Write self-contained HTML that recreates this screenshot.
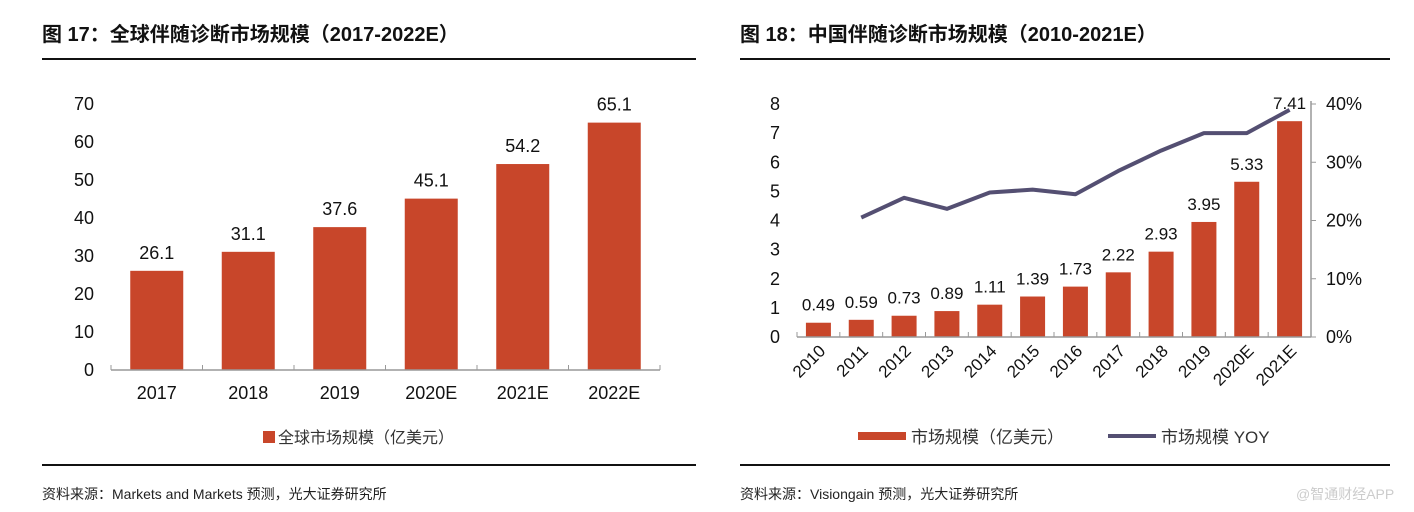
<!DOCTYPE html>
<html><head><meta charset="utf-8">
<style>
body{margin:0;width:1414px;height:512px;background:#fff;overflow:hidden;font-family:"Liberation Sans","Noto Sans CJK SC",sans-serif;}
.t{position:absolute;font-weight:bold;font-size:20px;color:#111;}
.rule{position:absolute;height:2px;background:#111;}
.src{position:absolute;font-size:14px;color:#222;}
svg{position:absolute;left:0;top:0;}
svg text{font-family:"Liberation Sans","Noto Sans CJK SC",sans-serif;}
</style></head><body>
<div class="t" style="left:42px;top:18px">图 17：全球伴随诊断市场规模（2017-2022E）</div>
<div class="t" style="left:740px;top:18px">图 18：中国伴随诊断市场规模（2010-2021E）</div>
<div class="rule" style="left:42px;top:58px;width:654px"></div>
<div class="rule" style="left:740px;top:58px;width:650px"></div>
<div class="rule" style="left:42px;top:464px;width:654px"></div>
<div class="rule" style="left:740px;top:464px;width:650px"></div>
<div class="src" style="left:42px;top:484px">资料来源：Markets and Markets 预测，光大证券研究所</div>
<div class="src" style="left:740px;top:484px">资料来源：Visiongain 预测，光大证券研究所</div>
<div class="src" style="left:1296px;top:484px;color:#ccc">@智通财经APP</div>
<svg id="chart" width="1414" height="512"></svg>
<script>
const leftCats=["2017","2018","2019","2020E","2021E","2022E"];
const leftVals=[26.1,31.1,37.6,45.1,54.2,65.1];
const leftTicks=[0,10,20,30,40,50,60,70];
const rightCats=["2010","2011","2012","2013","2014","2015","2016","2017","2018","2019","2020E","2021E"];
const rightVals=[0.49,0.59,0.73,0.89,1.11,1.39,1.73,2.22,2.93,3.95,5.33,7.41];
const rightYoy=[null,20.5,23.9,22.0,24.8,25.3,24.5,28.5,32.0,35.0,35.0,39.0];
const rightTicks=[0,1,2,3,4,5,6,7,8];
const rightPctTicks=[0,10,20,30,40];

const NS="http://www.w3.org/2000/svg";
const svg=document.getElementById('chart');
function mk(tag,attrs,txt){const e=document.createElementNS(NS,tag);for(const k in attrs)e.setAttribute(k,attrs[k]);if(txt!==undefined)e.textContent=txt;svg.appendChild(e);return e;}
const RED="#c8462a",LINE="#544f72",AX="#999";

// Left chart
const L={x0:111,x1:660,y0:370,y1:104,max:70};
const ly=v=>L.y0-(v/L.max)*(L.y0-L.y1);
const lbw=(L.x1-L.x0)/leftCats.length;
leftTicks.forEach(t=>{const e=mk('text',{x:94,y:ly(t)+6,'text-anchor':'end','font-size':18,fill:'#111'},t);
});
leftCats.forEach((c,i)=>{const cx=L.x0+lbw*(i+0.5),v=leftVals[i];
const r=mk('rect',{x:cx-26.5,y:ly(v),width:53,height:L.y0-ly(v),fill:RED});

const t=mk('text',{x:cx,y:ly(v)-12,'text-anchor':'middle','font-size':18,fill:'#111'},v.toFixed(1));

const x=mk('text',{x:cx,y:399,'text-anchor':'middle','font-size':18,fill:'#111'},c);
});
const la=mk('line',{x1:L.x0,y1:L.y0,x2:L.x1,y2:L.y0,stroke:AX,'stroke-width':1.5});

for(let i=0;i<=leftCats.length;i++){const x=L.x0+lbw*i;const tk=mk('line',{x1:x,y1:L.y0,x2:x,y2:L.y0-5,stroke:AX});
}
const lg1=mk('rect',{x:263,y:431,width:12,height:12,fill:RED});
const lg1t=mk('text',{x:278,y:443,'font-size':16,fill:'#333'},'全球市场规模（亿美元）');

// Right chart
const R={x0:797,x1:1311,y0:337,y1:104,max:8,pmax:40};
const ry=v=>R.y0-(v/R.max)*(R.y0-R.y1);
const py=v=>R.y0-(v/R.pmax)*(R.y0-R.y1);
const rbw=(R.x1-R.x0)/rightCats.length;
rightTicks.forEach(t=>{const e=mk('text',{x:780,y:ry(t)+6,'text-anchor':'end','font-size':18,fill:'#111'},t);
});
rightPctTicks.forEach(t=>{const e=mk('text',{x:1326,y:py(t)+6,'font-size':18,fill:'#111'},t+'%');

const k=mk('line',{x1:R.x1,y1:py(t),x2:R.x1+5,y2:py(t),stroke:AX});});
const ra2=mk('line',{x1:R.x1,y1:R.y0,x2:R.x1,y2:R.y1-3,stroke:AX,'stroke-width':1.5});
rightCats.forEach((c,i)=>{const cx=R.x0+rbw*(i+0.5),v=rightVals[i];
const r=mk('rect',{x:cx-12.5,y:ry(v),width:25,height:R.y0-ry(v),fill:RED});

const t=mk('text',{x:cx,y:ry(v)-12,'text-anchor':'middle','font-size':17,fill:'#111'},v.toFixed(2));

const x=mk('text',{x:cx+8,y:352,'text-anchor':'end','font-size':17,fill:'#111',transform:`rotate(-45 ${cx+8} 352)`},c);
});
const ra=mk('line',{x1:R.x0,y1:R.y0,x2:R.x1,y2:R.y0,stroke:AX,'stroke-width':1.5});

for(let i=0;i<=rightCats.length;i++){const x=R.x0+rbw*i;const tk=mk('line',{x1:x,y1:R.y0,x2:x,y2:R.y0-5,stroke:AX});
}
let pts=[];rightYoy.forEach((v,i)=>{if(v!==null)pts.push((R.x0+rbw*(i+0.5))+','+py(v));});
const pl=mk('polyline',{points:pts.join(' '),fill:'none',stroke:LINE,'stroke-width':4,'stroke-linejoin':'round'});

const lg2=mk('rect',{x:858,y:432,width:48,height:8,fill:RED});
const lg2t=mk('text',{x:911,y:443,'font-size':17,fill:'#333'},'市场规模（亿美元）');
const lg3=mk('line',{x1:1108,y1:436,x2:1156,y2:436,stroke:LINE,'stroke-width':4});
const lg3t=mk('text',{x:1161,y:443,'font-size':17,fill:'#333'},'市场规模 YOY');
</script>
</body></html>
